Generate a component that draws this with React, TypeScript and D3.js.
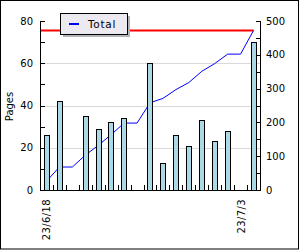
import React, { useEffect, useRef } from "react";
import * as d3 from "d3";

// one entry per day, 23/6/18 .. 23/7/4
const days = [
  "23/6/18", "23/6/19", "23/6/20", "23/6/21", "23/6/22", "23/6/23", "23/6/24", "23/6/25", "23/6/26",
  "23/6/27", "23/6/28", "23/6/29", "23/6/30", "23/7/1", "23/7/2", "23/7/3", "23/7/4",
];
const pages = [26, 42, 0, 35, 29, 32, 34, 0, 60, 13, 26, 21, 33, 23, 28, 0, 70];
const shownLabels = ["23/6/18", "23/7/3"];
const leftTicks = [0, 20, 40, 60, 80];
const rightTicks = [0, 100, 200, 300, 400, 500];
const goal = 472;

export default function App() {
  const svgRef = useRef<SVGSVGElement | null>(null);

  useEffect(() => {
    const W = 300, H = 250;
    const m = { left: 40, right: 260, top: 21, bottom: 190 };
    const font = "DejaVu Sans, Verdana, sans-serif";

    const svg = d3.select(svgRef.current).attr("width", W).attr("height", H);
    svg.selectAll("*").remove();

    svg.append("rect").attr("width", W).attr("height", H).attr("fill", "white");
    svg.append("rect")
      .attr("x", 0.5).attr("y", 0.5).attr("width", 298).attr("height", 248.5)
      .attr("fill", "none").attr("stroke", "black");

    const x = d3.scaleBand<number>()
      .domain(d3.range(days.length))
      .range([m.left, m.right])
      .paddingInner(0.58)
      .paddingOuter(0.29);
    const step = x.step();
    const cx = (i: number) => (x(i) as number) + x.bandwidth() / 2;

    const yL = d3.scaleLinear().domain([0, 80]).range([m.bottom, m.top]);
    const yR = d3.scaleLinear().domain([0, 500]).range([m.bottom, m.top]);

    const totals = d3.cumsum(pages);

    // --- grid ---
    svg.append("g").selectAll("line")
      .data([20, 40, 60])
      .join("line")
      .attr("x1", m.left).attr("x2", m.right)
      .attr("y1", d => Math.round(yL(d)) + 0.5).attr("y2", d => Math.round(yL(d)) + 0.5)
      .attr("stroke", "#d9d9d9");

    // --- goal line ---
    svg.append("line")
      .attr("x1", m.left).attr("x2", cx(days.length - 1))
      .attr("y1", yR(goal)).attr("y2", yR(goal))
      .attr("stroke", "#ff0000").attr("stroke-width", 2);

    // --- cumulative line ---
    const line = d3.line<number>().x((d, i) => cx(i)).y(d => yR(d));
    svg.append("path")
      .attr("d", line(Array.from(totals)))
      .attr("fill", "none")
      .attr("stroke", "#0000ff")
      .attr("stroke-width", 1);

    // --- bars ---
    svg.append("g").selectAll("rect")
      .data(pages.map((v, i) => ({ v, i })).filter(d => d.v > 0))
      .join("rect")
      .attr("x", d => Math.round(x(d.i) as number) + 0.5)
      .attr("y", d => Math.round(yL(d.v)) + 0.5)
      .attr("width", Math.round(x.bandwidth()))
      .attr("height", d => Math.round(m.bottom - yL(d.v)))
      .attr("fill", "#add8e6")
      .attr("stroke", "black");

    // --- axes ---
    const ax = svg.append("g").attr("stroke", "black").attr("shape-rendering", "crispEdges");
    ax.append("line").attr("x1", m.left + 0.5).attr("x2", m.left + 0.5).attr("y1", m.top).attr("y2", m.bottom + 1);
    ax.append("line").attr("x1", m.right + 0.5).attr("x2", m.right + 0.5).attr("y1", m.top).attr("y2", m.bottom + 1);
    ax.append("line").attr("x1", m.left).attr("x2", m.right + 1).attr("y1", m.bottom + 0.5).attr("y2", m.bottom + 0.5);

    ax.selectAll(".lt")
      .data(d3.range(0, 81, 10))
      .join("line")
      .attr("x1", m.left).attr("x2", m.left + 5)
      .attr("y1", d => Math.round(yL(d)) + 0.5).attr("y2", d => Math.round(yL(d)) + 0.5);
    ax.selectAll(".rt")
      .data(d3.range(0, 501, 50))
      .join("line")
      .attr("x1", m.right - 4).attr("x2", m.right + 1)
      .attr("y1", d => Math.round(yR(d)) + 0.5).attr("y2", d => Math.round(yR(d)) + 0.5);
    ax.selectAll(".xt")
      .data(d3.range(1, days.length))
      .join("line")
      .attr("x1", i => Math.round(m.left + i * step) + 0.5).attr("x2", i => Math.round(m.left + i * step) + 0.5)
      .attr("y1", m.bottom - 5).attr("y2", m.bottom);

    const txt = svg.append("g").attr("font-family", font).attr("font-size", 10).attr("fill", "black");
    txt.selectAll(".ll")
      .data(leftTicks)
      .join("text")
      .attr("x", 33).attr("y", d => yL(d)).attr("dy", "0.35em")
      .attr("text-anchor", "end").text(d => d);
    txt.selectAll(".rl")
      .data(rightTicks)
      .join("text")
      .attr("x", 266).attr("y", d => yR(d)).attr("dy", "0.35em")
      .attr("text-anchor", "start").text(d => d);
    txt.selectAll(".xl")
      .data(shownLabels)
      .join("text")
      .attr("transform", d => `translate(${cx(days.indexOf(d)) + 0.5},199) rotate(-90)`)
      .attr("dy", "0.35em")
      .attr("text-anchor", "end")
      .attr("letter-spacing", 0.4)
      .text(d => d);
    txt.append("text")
      .attr("transform", "translate(9,106.5) rotate(-90)")
      .attr("dy", "0.35em")
      .attr("text-anchor", "middle")
      .text("Pages");

    // --- legend ---
    const lg = svg.append("g");
    lg.append("rect").attr("x", 63).attr("y", 16).attr("width", 67).attr("height", 21).attr("fill", "#b4b4b4");
    lg.append("rect").attr("x", 60.5).attr("y", 13.5).attr("width", 67).attr("height", 21)
      .attr("fill", "#ece9f0").attr("stroke", "black");
    lg.append("line").attr("x1", 69).attr("x2", 79).attr("y1", 24).attr("y2", 24)
      .attr("stroke", "#0000ff").attr("stroke-width", 2);
    lg.append("text").attr("x", 88).attr("y", 24).attr("dy", "0.35em")
      .attr("font-family", font).attr("font-size", 10.5).attr("letter-spacing", 0.7)
      .text("Total");
  }, []);

  return <svg ref={svgRef} style={{ position: "absolute", left: 0, top: 0, display: "block" }} />;
}
